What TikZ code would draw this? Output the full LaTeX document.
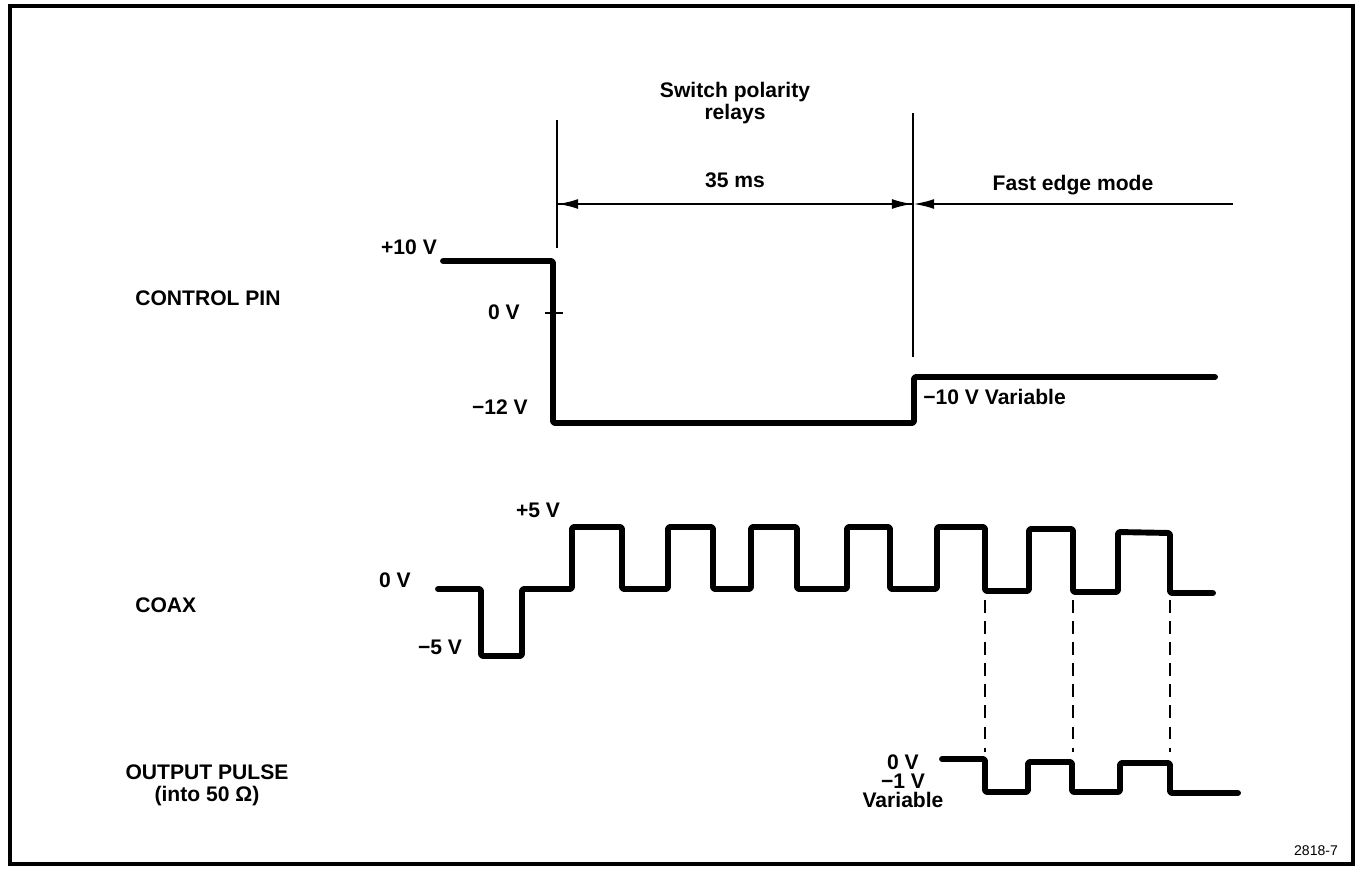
\documentclass[tikz,border=0pt]{standalone}
\usepackage{fontspec}
\setmainfont{Liberation Sans}
\usetikzlibrary{arrows.meta}
\tikzset{
  wave/.style={line width=4.2pt, line join=round, line cap=round, rounded corners=1.5pt},
  marker/.style={line width=1.1pt},
  guide/.style={line width=0.8pt, dash pattern=on 9pt off 6pt},
  span/.style={line width=1.6pt},
  tip/.style={-{Latex[length=15pt,width=7pt]}},
  lbl/.style={font=\bfseries\fontsize{15}{15.6}\selectfont, inner sep=0pt},
}
\begin{document}
\begin{tikzpicture}[x=0.025cm, y=-0.025cm]
    \useasboundingbox (0,0) rectangle (1364,869);
    \draw[line width=2.5pt] (10,6) rectangle (1353,864);

    % Time markers
    \coordinate (relayTop) at (557,120);
    \coordinate (relayBot) at (557,248);
    \coordinate (fastTop) at (913,113);
    \coordinate (fastBot) at (913,357);
    \coordinate (relayMid) at (557,204);
    \coordinate (fastMid) at (913,204);
    \coordinate (fastEnd) at (1233,204);
    \draw[marker] (relayTop) -- (relayBot);
    \draw[marker] (fastTop) -- (fastBot);
    \draw[span, tip] (relayMid) -- (fastMid);
    \draw[span, tip] (fastMid) -- (relayMid);
    \draw[span, tip] (fastEnd) -- (fastMid);

    \node[lbl, align=center] (relays) at (735,103) {Switch polarity\\relays};
    \node[lbl] (dur) at (735,180) {35 ms};
    \node[lbl] (fast) at (1073,185) {Fast edge mode};

    % Row names
    \node[lbl, anchor=west] (ctrl) at (135,298) {CONTROL PIN};
    \node[lbl, anchor=west] (coax) at (135,605) {COAX};
    \node[lbl, align=center] (outp) at (207,785) {OUTPUT PULSE\\(into 50 Ω)};

    % Control pin
    \draw[wave] (443,261) -- (553,261) -- (553,423) -- (914,423) -- (914,377) -- (1215,377);
    \draw[marker] (545,313) -- (563,313);
    \node[lbl] (p10) at (409,247) {+10 V};
    \node[lbl, anchor=east] (z0) at (520,312) {0 V};
    \node[lbl, anchor=east] (m12) at (528,407) {−12 V};
    \node[lbl, anchor=west] (m10) at (923,397) {−10 V Variable};

    % Coax
    \draw[wave] (438,589) -- (481,589) -- (481,656) -- (522,656) -- (522,589)
        -- (572,589) -- (572,527) -- (622,527) -- (622,589)
        -- (668,589) -- (668,527) -- (713,527) -- (713,589)
        -- (751,589) -- (751,527) -- (797,527) -- (797,589)
        -- (847,589) -- (847,527) -- (890,527) -- (890,589)
        -- (937,589) -- (937,527) -- (985,527) -- (985,591)
        -- (1029,591) -- (1029,529) -- (1073,529) -- (1073,592)
        -- (1118,592) -- (1118,532) -- (1170,533) -- (1170,593) -- (1213,593);
    \node[lbl] (p5) at (538,510) {+5 V};
    \node[lbl] (c0) at (395,580) {0 V};
    \node[lbl] (m5) at (440,647) {−5 V};

    \foreach \x in {985,1073,1170}
        \draw[guide] (\x,600) -- (\x,752);

    % Output pulse
    \draw[wave] (942,759) -- (985,759) -- (985,792) -- (1028,792) -- (1028,762)
        -- (1072,762) -- (1072,792) -- (1120,792) -- (1120,763)
        -- (1170,763) -- (1170,793) -- (1238,793);
    \node[lbl, align=center] (o0) at (903,781) {0 V\\[-2pt]−1 V\\[-2pt]Variable};

    \node[font=\fontsize{10}{12}\selectfont, inner sep=0pt] (fig) at (1316,851) {2818-7};
\end{tikzpicture}
\end{document}
